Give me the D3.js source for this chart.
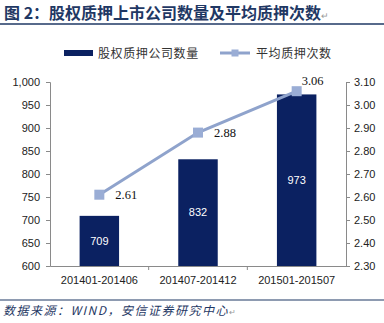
<!DOCTYPE html>
<html><head><meta charset="utf-8">
<script src="https://d3js.org/d3.v7.min.js"></script>
<style>body{margin:0;background:#fff}svg{display:block}</style>
</head><body><svg id="c" width="384" height="323"></svg>
<script>
const categories = ["201401-201406", "201407-201412", "201501-201507"];
const companyCounts = [709, 832, 973];
const avgPledges = [2.61, 2.88, 3.06];
const leftTicks = [600, 650, 700, 750, 800, 850, 900, 950, 1000];
const rightTicks = [2.30, 2.40, 2.50, 2.60, 2.70, 2.80, 2.90, 3.00, 3.10];
const titleText = "图 2：股权质押上市公司数量及平均质押次数";
const legendLabels = ["股权质押公司数量", "平均质押次数"];
const sourceText = "数据来源：WIND，安信证券研究中心";

const navy = "#0b2161", lineCol = "#8fa3cc", markCol = "#9aadd5", ruleCol = "#1f3864", axisCol = "#8a8a8a";
const svg = d3.select("#c");
const L = 50, R = 346, T = 82, B = 266;

const x = d3.scaleBand().domain(categories).range([L, R]).paddingInner(0.6).paddingOuter(0.3);
const xb = d3.scaleBand().domain(categories).range([L, R]);
const yL = d3.scaleLinear().domain([600, 1000]).range([B, T]);
const yR = d3.scaleLinear().domain([2.3, 3.1]).range([B, T]);

// title
svg.append("text").attr("x", 4).attr("y", 19).attr("font-family", "Noto Sans CJK SC").attr("font-weight", "bold")
  .attr("font-size", 16).attr("fill", ruleCol).text(titleText)
  .append("tspan").attr("font-size", 9).attr("fill", "#999").attr("font-weight", "normal").text("↵");
svg.append("line").attr("x1", 0).attr("x2", 384).attr("y1", 24).attr("y2", 24).attr("stroke", ruleCol).attr("stroke-width", 1.5);

// legend
svg.append("rect").attr("x", 64).attr("y", 50).attr("width", 29).attr("height", 6).attr("fill", navy);
svg.append("text").attr("x", 98).attr("y", 57.5).attr("font-family", "Noto Sans CJK SC").attr("font-size", 12)
  .attr("letter-spacing", 0.6).attr("fill", "#333").text(legendLabels[0]);
svg.append("line").attr("x1", 220).attr("x2", 250).attr("y1", 53).attr("y2", 53).attr("stroke", lineCol).attr("stroke-width", 3);
svg.append("rect").attr("x", 231.5).attr("y", 49.5).attr("width", 7).attr("height", 7).attr("fill", markCol);
svg.append("text").attr("x", 256).attr("y", 57.5).attr("font-family", "Noto Sans CJK SC").attr("font-size", 12)
  .attr("letter-spacing", 0.6).attr("fill", "#333").text(legendLabels[1]);

// axes
const axisFont = "Liberation Sans";
const gL = svg.append("g").attr("transform", `translate(${L},0)`)
  .call(d3.axisLeft(yL).tickValues(leftTicks).tickSize(4).tickPadding(6).tickFormat(d3.format(",")));
const gR = svg.append("g").attr("transform", `translate(${R},0)`)
  .call(d3.axisRight(yR).tickValues(rightTicks).tickSize(4).tickPadding(4).tickFormat(d3.format(".2f")));
const gX = svg.append("g").attr("transform", `translate(0,${B})`)
  .call(d3.axisBottom(xb).tickSize(0).tickPadding(10));
[gL, gR, gX].forEach(g => {
  g.select(".domain").attr("stroke", axisCol);
  g.selectAll(".tick line").attr("stroke", axisCol);
  g.selectAll("text").attr("font-family", axisFont).attr("font-size", 11).attr("fill", "#222");
});
// x category boundary ticks
const bounds = categories.slice(1).map(c => xb(c));
gX.selectAll(".bt").data(bounds).enter().append("line").attr("class", "bt")
  .attr("x1", d => d).attr("x2", d => d).attr("y1", 0).attr("y2", 4).attr("stroke", axisCol);

// bars
svg.selectAll(".bar").data(companyCounts).enter().append("rect").attr("class", "bar")
  .attr("x", (d, i) => x(categories[i])).attr("width", x.bandwidth())
  .attr("y", d => yL(d)).attr("height", d => B - yL(d)).attr("fill", navy);
svg.selectAll(".bl").data(companyCounts).enter().append("text").attr("class", "bl")
  .attr("x", (d, i) => x(categories[i]) + x.bandwidth() / 2).attr("y", d => (yL(d) + B) / 2)
  .attr("dy", "0.35em").attr("text-anchor", "middle").attr("font-family", axisFont).attr("font-size", 11)
  .attr("fill", "#fff").text(d => d);

// line
const cx = i => xb(categories[i]) + xb.bandwidth() / 2;
const line = d3.line().x((d, i) => cx(i)).y(d => yR(d));
svg.append("path").datum(avgPledges).attr("d", line).attr("fill", "none").attr("stroke", lineCol).attr("stroke-width", 3);
svg.selectAll(".mk").data(avgPledges).enter().append("rect").attr("class", "mk")
  .attr("x", (d, i) => cx(i) - 5).attr("y", d => yR(d) - 5).attr("width", 10).attr("height", 10).attr("fill", markCol);
svg.selectAll(".ll").data(avgPledges).enter().append("text").attr("class", "ll")
  .attr("x", (d, i) => cx(i) + (i === avgPledges.length - 1 ? 5 : 16))
  .attr("y", (d, i) => yR(d) + (i === avgPledges.length - 1 ? -11 : 0))
  .attr("dy", "0.35em").attr("font-family", "Liberation Serif").attr("font-size", 12.5).attr("fill", "#111")
  .text(d => d.toFixed(2));

// source
svg.append("line").attr("x1", 0).attr("x2", 384).attr("y1", 300).attr("y2", 300).attr("stroke", ruleCol).attr("stroke-width", 1.2);
svg.append("text").attr("x", 3).attr("y", 315).attr("font-family", "Noto Sans CJK SC").attr("font-style", "italic")
  .attr("font-size", 12).attr("letter-spacing", 1.5).attr("fill", ruleCol).text(sourceText)
  .append("tspan").attr("font-size", 8).attr("fill", "#999").attr("font-style", "normal").attr("letter-spacing", 0).text("↵");
</script></body></html>
